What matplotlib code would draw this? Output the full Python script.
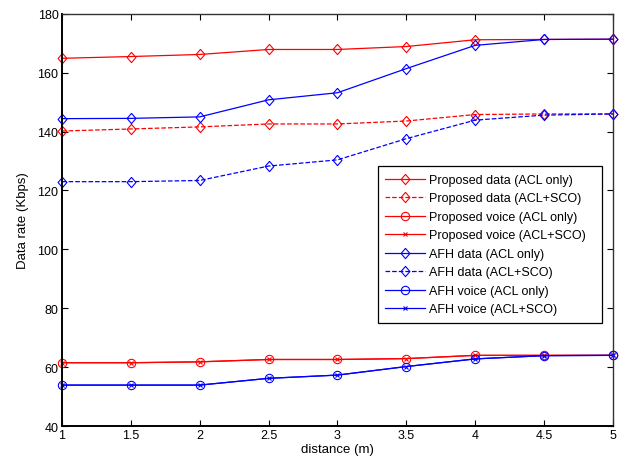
import matplotlib
matplotlib.use("Agg")
import matplotlib.pyplot as plt
import numpy as np

plt.rcParams['font.family'] = ['Liberation Sans', 'DejaVu Sans']
plt.rcParams['font.size'] = 9

distance = [1, 1.5, 2, 2.5, 3, 3.5, 4, 4.5, 5]

prop_data_acl = [164.9, 165.5, 166.2, 167.9, 167.9, 168.9, 171.2, 171.3, 171.4]
prop_data_sco = [140.2, 140.9, 141.6, 142.6, 142.6, 143.6, 145.8, 146.0, 146.0]
prop_voice_acl = [61.5, 61.5, 61.8, 62.6, 62.6, 62.9, 64.0, 64.0, 64.0]
prop_voice_sco = [61.5, 61.5, 61.8, 62.6, 62.6, 62.9, 64.0, 64.0, 64.0]
afh_data_acl = [144.4, 144.5, 145.0, 150.8, 153.2, 161.4, 169.3, 171.3, 171.4]
afh_data_sco = [123.0, 123.0, 123.4, 128.3, 130.4, 137.6, 143.9, 145.6, 146.0]
afh_voice_acl = [53.9, 53.9, 53.9, 56.2, 57.3, 60.2, 62.8, 63.9, 64.0]
afh_voice_sco = [53.9, 53.9, 53.9, 56.2, 57.3, 60.2, 62.8, 63.9, 64.0]

# matlab-like diamond (a bit narrower than a rotated square)
diamond = [(0, 1), (0.86, 0), (0, -1), (-0.86, 0), (0, 1)]

series = [
    ("Proposed data (ACL only)", prop_data_acl, "red", "-", diamond),
    ("Proposed data (ACL+SCO)", prop_data_sco, "red", "--", diamond),
    ("Proposed voice (ACL only)", prop_voice_acl, "red", "-", "o"),
    ("Proposed voice (ACL+SCO)", prop_voice_sco, "red", "-", "x"),
    ("AFH data (ACL only)", afh_data_acl, "blue", "-", diamond),
    ("AFH data (ACL+SCO)", afh_data_sco, "blue", "--", diamond),
    ("AFH voice (ACL only)", afh_voice_acl, "blue", "-", "o"),
    ("AFH voice (ACL+SCO)", afh_voice_sco, "blue", "-", "x"),
]

fig = plt.figure(figsize=(6.21, 4.64), dpi=100)
ax = fig.add_axes([0.0998, 0.0797, 0.8872, 0.8883])

for label, vals, col, ls, mk in series:
    if mk == "o":
        ms = 6
    elif mk == "x":
        ms = 3.5
    else:
        ms = 7.4
    ax.plot(distance, vals, color=col, linestyle=ls, marker=mk, markersize=ms,
            markerfacecolor="none", markeredgecolor=col, linewidth=0.9,
            markeredgewidth=0.8, label=label, clip_on=False)

ax.set_xlim(1, 5)
ax.set_ylim(40, 180)
ax.set_xticks(np.arange(1, 5.01, 0.5))
ax.set_xticklabels(["1", "1.5", "2", "2.5", "3", "3.5", "4", "4.5", "5"])
ax.set_yticks(np.arange(40, 181, 20))
ax.tick_params(direction="in", top=True, right=True, length=4, width=0.8,
               labelsize=9, pad=2.5)
ax.set_xlabel("distance (m)", fontsize=9.5, labelpad=1)
ax.set_ylabel("Data rate (Kbps)", fontsize=9.5, labelpad=6)

for side in ["left", "bottom"]:
    ax.spines[side].set_linewidth(1.4)
    ax.spines[side].set_color("black")
for side in ["top", "right"]:
    ax.spines[side].set_linewidth(1.0)
    ax.spines[side].set_color("#333333")

leg = ax.legend(loc="lower left", bbox_to_anchor=(0.5735, 0.25, 0.4065, 0.4),
                mode="expand", fontsize=9.0,
                numpoints=1, fancybox=False, framealpha=1, edgecolor="black",
                handlelength=3.2, handletextpad=0.3, borderpad=0.6,
                labelspacing=0.52, borderaxespad=0)
leg.get_frame().set_linewidth(0.9)

fig.savefig("out.png", dpi=100)
